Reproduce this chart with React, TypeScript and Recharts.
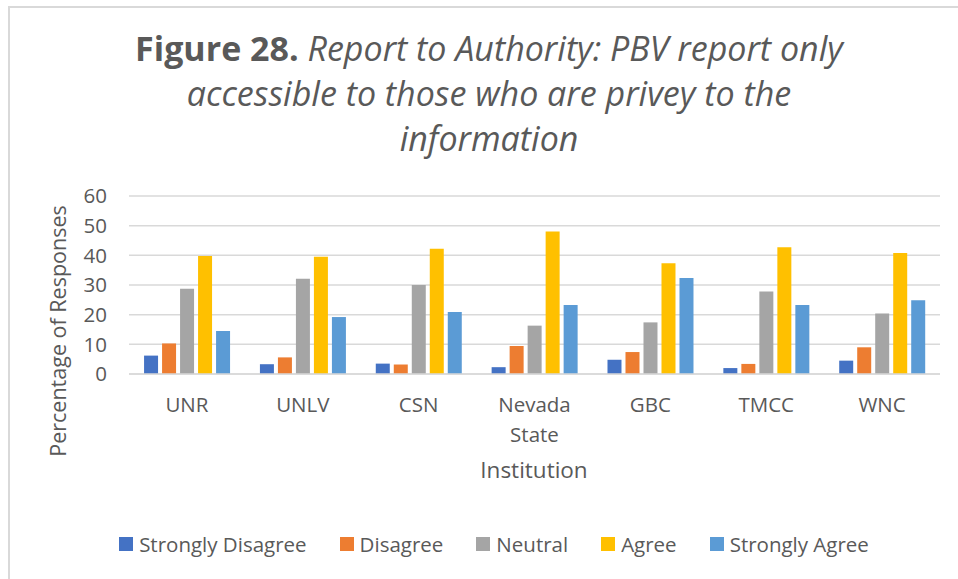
import { BarChart, Bar, XAxis, YAxis, CartesianGrid, Legend, Text } from 'recharts'

const institutions = ['UNR', 'UNLV', 'CSN', 'Nevada State', 'GBC', 'TMCC', 'WNC']
const stronglyDisagree = [6.2, 3.3, 3.5, 2.3, 4.8, 2.0, 4.5]
const disagree = [10.3, 5.6, 3.2, 9.4, 7.4, 3.4, 9.0]
const neutral = [28.7, 32.1, 30.0, 16.3, 17.4, 27.8, 20.4]
const agree = [39.8, 39.5, 42.2, 48.0, 37.3, 42.7, 40.8]
const stronglyAgree = [14.5, 19.2, 20.9, 23.3, 32.4, 23.3, 24.9]
const yTicks = [0, 10, 20, 30, 40, 50, 60]

const seriesList = [
  { key: 'sd', name: 'Strongly Disagree', color: '#4472C4' },
  { key: 'd', name: 'Disagree', color: '#ED7D31' },
  { key: 'n', name: 'Neutral', color: '#A5A5A5' },
  { key: 'a', name: 'Agree', color: '#FFC000' },
  { key: 'sa', name: 'Strongly Agree', color: '#5B9BD5' },
]

const FONT = '"Open Sans", sans-serif'
const TEXT = '#595959'

const data = institutions.map((name, i) => ({
  name,
  sd: stronglyDisagree[i],
  d: disagree[i],
  n: neutral[i],
  a: agree[i],
  sa: stronglyAgree[i],
}))

function CategoryTick(props: any) {
  const { x, y, payload } = props
  return (
    <Text
      x={x}
      y={y + 15}
      width={80}
      textAnchor="middle"
      verticalAnchor="start"
      lineHeight={30}
      fill={TEXT}
      fontSize={20.5}
      fontFamily={FONT}
    >
      {payload.value}
    </Text>
  )
}

function LegendBox() {
  return (
    <div
      style={{
        display: 'flex',
        justifyContent: 'center',
        gap: 33,
        fontFamily: FONT,
        fontSize: 20.5,
        color: TEXT,
        paddingLeft: 30,
      }}
    >
      {seriesList.map((s) => (
        <div key={s.key} style={{ display: 'flex', alignItems: 'center' }}>
          <span style={{ width: 14, height: 14, background: s.color, marginRight: 6, display: 'inline-block' }} />
          <span>{s.name}</span>
        </div>
      ))}
    </div>
  )
}

export default function App() {
  return (
    <div
      style={{
        position: 'absolute',
        left: 0,
        top: 0,
        width: 958,
        height: 579,
        background: '#fff',
        overflow: 'hidden',
      }}
    >
      <div
        style={{
          position: 'absolute',
          left: 8,
          top: 6,
          width: 960,
          height: 600,
          borderTop: '2px solid #d9d9d9',
          borderLeft: '2px solid #d9d9d9',
        }}
      />
      <div
        style={{
          position: 'absolute',
          left: 0,
          top: 26,
          width: 978,
          textAlign: 'center',
          fontFamily: FONT,
          fontSize: 34,
          lineHeight: '45px',
          color: TEXT,
        }}
      >
        <b>Figure 28.</b>{' '}
        <i>
          Report to Authority: PBV report only
          <br />
          accessible to those who are privey to the
          <br />
          information
        </i>
      </div>
      <BarChart
        width={958}
        height={579}
        data={data}
        margin={{ top: 196, right: 18, bottom: 95, left: 0 }}
        barCategoryGap="13%"
        barGap={4}
        style={{ position: 'absolute', left: 0, top: 0 }}
      >
        <CartesianGrid stroke="#d9d9d9" strokeWidth={1.5} vertical={false} />
        <XAxis
          dataKey="name"
          height={110}
          tickLine={false}
          axisLine={{ stroke: '#d9d9d9', strokeWidth: 1.5 }}
          tick={<CategoryTick />}
          interval={0}
          label={{
            content: () => (
              <text x={534} y={472} textAnchor="middle" dominantBaseline="middle" fill={TEXT} fontSize={22.5} fontFamily={FONT}>
                Institution
              </text>
            ),
          }}
        />
        <YAxis
          width={129}
          domain={[0, 60]}
          ticks={yTicks}
          tickLine={false}
          axisLine={false}
          tickMargin={16}
          tick={{ fill: TEXT, fontSize: 20.5, fontFamily: FONT }}
          label={{
            content: () => (
              <text
                transform="translate(60,331) rotate(-90)"
                textAnchor="middle"
                dominantBaseline="middle"
                fill={TEXT}
                fontSize={21.5}
                fontFamily={FONT}
              >
                Percentage of Responses
              </text>
            ),
          }}
        />
        <Legend
          verticalAlign="middle"
          align="center"
          wrapperStyle={{ top: 530, left: 0, width: 958 }}
          content={() => <LegendBox />}
        />
        {seriesList.map((s) => (
          <Bar key={s.key} dataKey={s.key} name={s.name} fill={s.color} isAnimationActive={false} />
        ))}
      </BarChart>
    </div>
  )
}
